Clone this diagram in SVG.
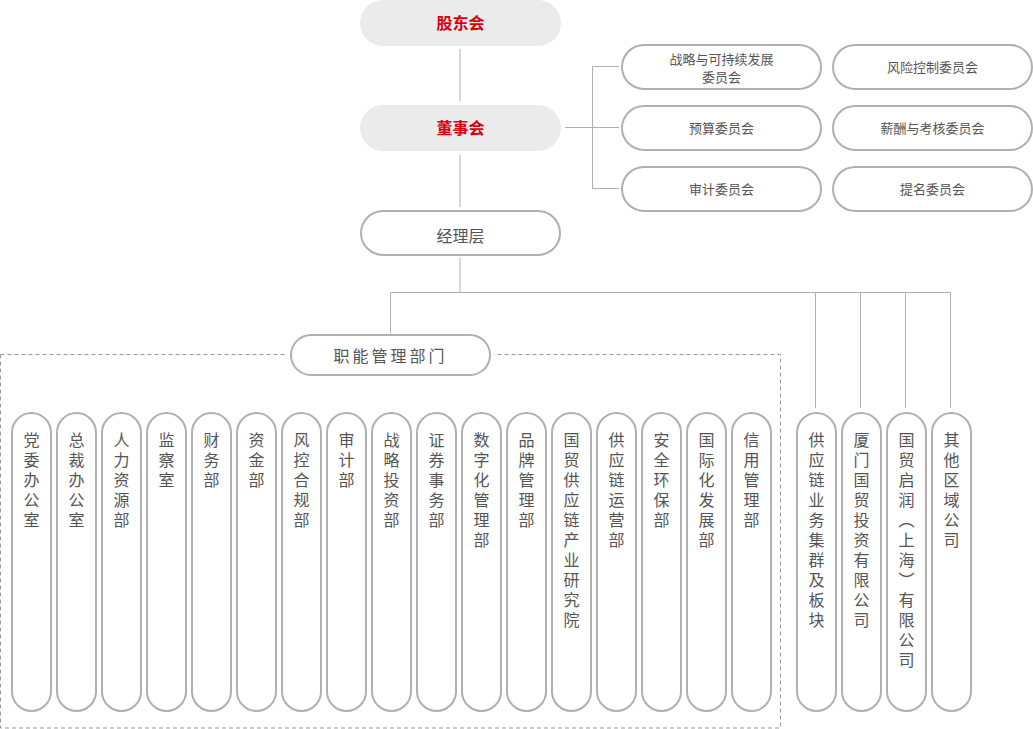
<svg xmlns="http://www.w3.org/2000/svg" width="1033" height="729" viewBox="0 0 1033 729">
<style>
text{font-family:"Noto Sans CJK SC","Noto Sans",sans-serif;fill:#555;}
.top{fill:#ebebeb;stroke:none;}
.red{fill:#d7000f;font-size:16px;font-weight:bold;text-anchor:middle;}
.pill{fill:#fff;stroke:#b0b0b0;stroke-width:2;}
.ln{stroke:#b0b0b0;stroke-width:1;fill:none;}
.dash{stroke:#999;stroke-width:1;fill:none;stroke-dasharray:4 3;}
.cm{font-size:13px;text-anchor:middle;}
.mid{font-size:16px;text-anchor:middle;}
.v{font-size:16px;writing-mode:vertical-rl;letter-spacing:4px;}
</style>
<rect width="1033" height="729" fill="#fff"/>
<g id="connectors">
<line class="ln" x1="460" y1="49" x2="460" y2="101"/>
<line class="ln" x1="460" y1="155" x2="460" y2="207"/>
<line class="ln" x1="460" y1="258" x2="460" y2="292.5"/>
<polyline class="ln" points="565,127.5 592.5,127.5"/>
<polyline class="ln" points="619,66.5 592.5,66.5 592.5,188.5 619,188.5"/>
<line class="ln" x1="592.5" y1="127.5" x2="619" y2="127.5"/>
<polyline class="ln" points="390.5,334 390.5,292.5 950.5,292.5 950.5,408"/>
<line class="ln" x1="815.5" y1="292.5" x2="815.5" y2="408"/>
<line class="ln" x1="860.5" y1="292.5" x2="860.5" y2="408"/>
<line class="ln" x1="905.5" y1="292.5" x2="905.5" y2="408"/>
</g>
<rect id="group-frame" class="dash" x="0.5" y="354.5" width="780" height="373.5"/>
<g id="gudonghui"><rect class="top" x="360" y="0" width="201" height="46" rx="23"/><text class="red" x="460.5" y="29">股东会</text></g>
<g id="dongshihui"><rect class="top" x="360" y="105" width="201" height="46" rx="23"/><text class="red" x="460.5" y="134">董事会</text></g>
<g id="jinglice"><rect class="pill" x="361" y="211" width="199" height="44" rx="22"/><text class="mid" x="460.5" y="242">经理层</text></g>
<g id="c1"><rect class="pill" x="622" y="45" width="199" height="44" rx="22"/><text class="cm" x="721.5" y="64">战略与可持续发展</text><text class="cm" x="721.5" y="82">委员会</text></g>
<g id="c2"><rect class="pill" x="622" y="106" width="199" height="44" rx="22"/><text class="cm" x="721.5" y="132.5">预算委员会</text></g>
<g id="c3"><rect class="pill" x="622" y="167" width="199" height="44" rx="22"/><text class="cm" x="721.5" y="193.5">审计委员会</text></g>
<g id="c4"><rect class="pill" x="833" y="45" width="199" height="44" rx="22"/><text class="cm" x="932.5" y="71.5">风险控制委员会</text></g>
<g id="c5"><rect class="pill" x="833" y="106" width="199" height="44" rx="22"/><text class="cm" x="932.5" y="132.5">薪酬与考核委员会</text></g>
<g id="c6"><rect class="pill" x="833" y="167" width="199" height="44" rx="22"/><text class="cm" x="932.5" y="193.5">提名委员会</text></g>
<g id="zhineng"><rect x="287" y="333" width="207" height="43" fill="#fff"/><rect class="pill" x="291" y="335" width="199" height="40" rx="20"/><text class="mid" x="390.5" y="361.5" letter-spacing="3">职能管理部门</text></g>
<g id="d1"><rect class="pill" x="12" y="413" width="39" height="298" rx="19.5"/><text class="v" x="31.5" y="432">党委办公室</text></g>
<g id="d2"><rect class="pill" x="57" y="413" width="39" height="298" rx="19.5"/><text class="v" x="76.5" y="432">总裁办公室</text></g>
<g id="d3"><rect class="pill" x="102" y="413" width="39" height="298" rx="19.5"/><text class="v" x="121.5" y="432">人力资源部</text></g>
<g id="d4"><rect class="pill" x="147" y="413" width="39" height="298" rx="19.5"/><text class="v" x="166.5" y="432">监察室</text></g>
<g id="d5"><rect class="pill" x="192" y="413" width="39" height="298" rx="19.5"/><text class="v" x="211.5" y="432">财务部</text></g>
<g id="d6"><rect class="pill" x="237" y="413" width="39" height="298" rx="19.5"/><text class="v" x="256.5" y="432">资金部</text></g>
<g id="d7"><rect class="pill" x="282" y="413" width="39" height="298" rx="19.5"/><text class="v" x="301.5" y="432">风控合规部</text></g>
<g id="d8"><rect class="pill" x="327" y="413" width="39" height="298" rx="19.5"/><text class="v" x="346.5" y="432">审计部</text></g>
<g id="d9"><rect class="pill" x="372" y="413" width="39" height="298" rx="19.5"/><text class="v" x="391.5" y="432">战略投资部</text></g>
<g id="d10"><rect class="pill" x="417" y="413" width="39" height="298" rx="19.5"/><text class="v" x="436.5" y="432">证券事务部</text></g>
<g id="d11"><rect class="pill" x="462" y="413" width="39" height="298" rx="19.5"/><text class="v" x="481.5" y="432">数字化管理部</text></g>
<g id="d12"><rect class="pill" x="507" y="413" width="39" height="298" rx="19.5"/><text class="v" x="526.5" y="432">品牌管理部</text></g>
<g id="d13"><rect class="pill" x="552" y="413" width="39" height="298" rx="19.5"/><text class="v" x="571.5" y="432">国贸供应链产业研究院</text></g>
<g id="d14"><rect class="pill" x="597" y="413" width="39" height="298" rx="19.5"/><text class="v" x="616.5" y="432">供应链运营部</text></g>
<g id="d15"><rect class="pill" x="642" y="413" width="39" height="298" rx="19.5"/><text class="v" x="661.5" y="432">安全环保部</text></g>
<g id="d16"><rect class="pill" x="687" y="413" width="39" height="298" rx="19.5"/><text class="v" x="706.5" y="432">国际化发展部</text></g>
<g id="d17"><rect class="pill" x="732" y="413" width="39" height="298" rx="19.5"/><text class="v" x="751.5" y="432">信用管理部</text></g>
<g id="s1"><rect class="pill" x="797" y="413" width="39" height="298" rx="19.5"/><text class="v" x="816.5" y="432">供应链业务集群及板块</text></g>
<g id="s2"><rect class="pill" x="842" y="413" width="39" height="298" rx="19.5"/><text class="v" x="861.5" y="432">厦门国贸投资有限公司</text></g>
<g id="s3"><rect class="pill" x="887" y="413" width="39" height="298" rx="19.5"/><text class="v" x="906.5" y="432">国贸启润（上海）有限公司</text></g>
<g id="s4"><rect class="pill" x="932" y="413" width="39" height="298" rx="19.5"/><text class="v" x="951.5" y="432">其他区域公司</text></g>
</svg>
